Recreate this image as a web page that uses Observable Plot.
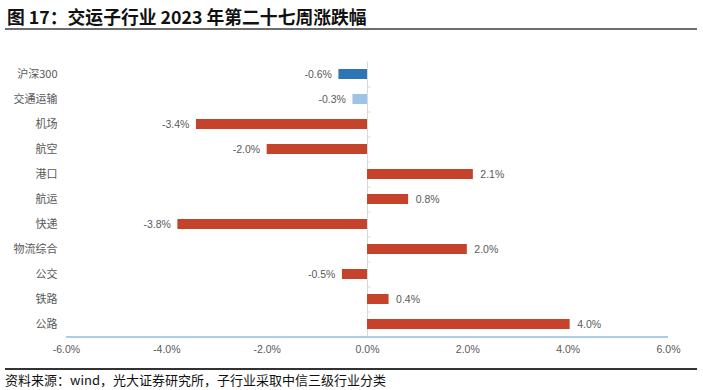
<!DOCTYPE html>
<html>
<head>
<meta charset="utf-8">
<script src="https://cdn.jsdelivr.net/npm/d3@7"></script>
<script src="https://cdn.jsdelivr.net/npm/@observablehq/plot@0.6"></script>
<style>
  html, body { margin: 0; padding: 0; background: #fff; }
  #wrap { position: relative; width: 703px; height: 390px; overflow: hidden; font-family: "Noto Sans CJK SC", "Liberation Sans", sans-serif; }
  #title { position: absolute; left: 7px; top: 3px; font-size: 17.8px; font-weight: bold; color: #111; white-space: nowrap; }
  #tline { position: absolute; left: 5px; width: 692px; top: 28px; height: 2px; background: #6e6e6e; }
  #chart { position: absolute; left: 0; top: 40px; }
  #bline { position: absolute; left: 5px; width: 692px; top: 368px; height: 2px; background: #333; }
  #caption { position: absolute; left: 5px; top: 370px; font-size: 13px; color: #111; white-space: nowrap; }
</style>
</head>
<body>
<div id="wrap">
  <div id="title">图 17：交运子行业 2023 年第二十七周涨跌幅</div>
  <div id="tline"></div>
  <div id="chart"></div>
  <div id="bline"></div>
  <div id="caption">资料来源：wind，光大证券研究所，子行业采取中信三级行业分类</div>
</div>
<script>
const categories = ["沪深300", "交通运输", "机场", "航空", "港口", "航运", "快递", "物流综合", "公交", "铁路", "公路"];
const values = [-0.57, -0.29, -3.41, -2.0, 2.11, 0.82, -3.78, 1.99, -0.5, 0.43, 4.04];
const barColors = ["#2e75b6", "#9dc3e6", "#c5432a", "#c5432a", "#c5432a", "#c5432a", "#c5432a", "#c5432a", "#c5432a", "#c5432a", "#c5432a"];
const xTicks = [-6, -4, -2, 0, 2, 4, 6];

const data = categories.map((name, i) => ({name, value: values[i], color: barColors[i]}));
const fmt = d => d.toFixed(1) + "%";
const last = categories[categories.length - 1];

const chart = Plot.plot({
  width: 703,
  height: 320,
  marginLeft: 66,
  marginRight: 35,
  marginTop: 21.5,
  marginBottom: 23.5,
  style: {fontFamily: "'Liberation Sans', 'Noto Sans CJK SC', sans-serif", background: "#fff"},
  x: {domain: [-6, 6], ticks: xTicks, tickFormat: fmt},
  y: {domain: categories, paddingInner: 0.6, paddingOuter: 0.3},
  marks: [
    Plot.axisX({ticks: xTicks, tickFormat: fmt, tickSize: 0, tickPadding: 9, fontSize: 10.5, fill: "#595959", label: null}),
    Plot.axisY({tickSize: 0, tickPadding: 9, fontSize: 11, fill: "#595959", fontFamily: "'Noto Sans CJK SC', sans-serif", label: null}),
    Plot.ruleX([0], {stroke: "#d9d9d9", strokeWidth: 1}),
    Plot.ruleY(categories.slice(1), {y: d => d, x1: 0, x2: 0.07, dy: -12.5, stroke: "#d9d9d9"}),
    Plot.barX(data, {x: "value", y: "name", fill: "color"}),
    Plot.text(data.filter(d => d.value < 0), {x: "value", y: "name", text: d => fmt(d.value), textAnchor: "end", dx: -7, fontSize: 10.5, fill: "#595959"}),
    Plot.text(data.filter(d => d.value >= 0), {x: "value", y: "name", text: d => fmt(d.value), textAnchor: "start", dx: 7, fontSize: 10.5, fill: "#595959"}),
    Plot.ruleY([last], {y: d => d, x1: -6, x2: 6, dy: 12.5, stroke: "#5b9bd5", strokeWidth: 1.2}),
    Plot.ruleX(xTicks, {x: d => d, y: () => last, dy: 7.5, insetTop: 7, stroke: "#5b9bd5"})
  ]
});
document.getElementById("chart").appendChild(chart);
</script>
</body>
</html>
